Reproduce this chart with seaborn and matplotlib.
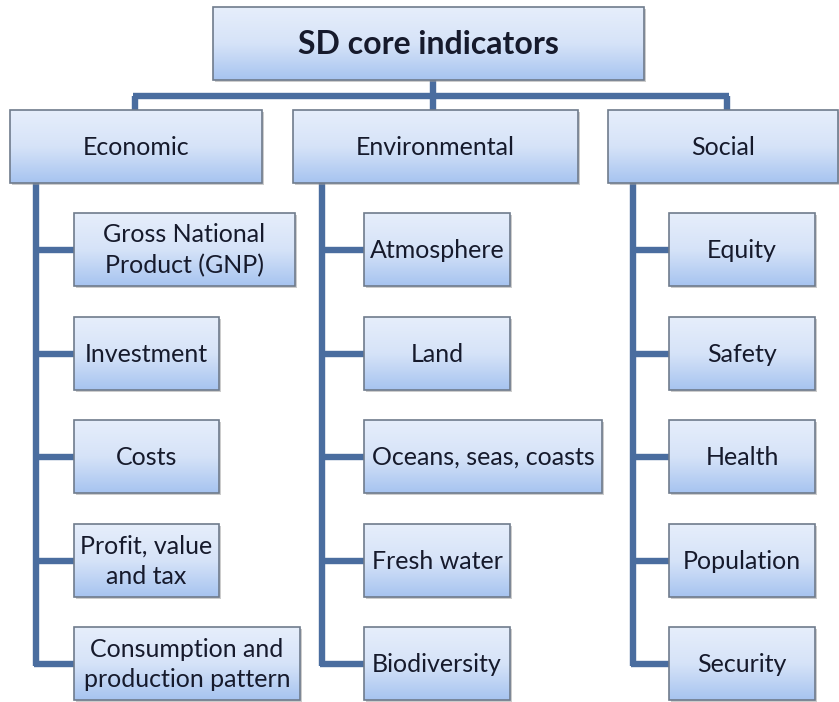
import numpy as np
import seaborn as sns
import matplotlib.pyplot as plt
from matplotlib.patches import Rectangle

# --- content ---
root_label = "SD core indicators"
categories = ["Economic", "Environmental", "Social"]
economic = ["Gross National\nProduct (GNP)", "Investment", "Costs",
            "Profit, value\nand tax", "Consumption and\nproduction pattern"]
environmental = ["Atmosphere", "Land", "Oceans, seas, coasts",
                 "Fresh water", "Biodiversity"]
social = ["Equity", "Safety", "Health", "Population", "Security"]
leaves = [economic, environmental, social]

# --- layout (pixel coords, y down) ---
root_box = (213, 7, 644, 80)
cat_boxes = [(10, 110, 262, 183), (293, 110, 578, 183), (608, 110, 838, 183)]
cat_drop_x = [135, 433, 727]
bus_y = 96
spine_x = [36, 322, 633]
leaf_x0 = [74, 364, 669]
leaf_x1 = [[295, 219, 219, 219, 300],
           [510, 510, 602, 510, 510],
           [815, 815, 815, 815, 815]]
row_top = [213, 317, 420, 524, 627]
row_h = 73

line_col = "#4a6d9f"
lw = 4.6
text_col = "#161a2c"

sns.set_theme(style="white")
plt.rcParams['font.family'] = ['Lato', 'DejaVu Sans']

fig = plt.figure(figsize=(8.39, 7.02), dpi=100)
ax = fig.add_axes([0, 0, 1, 1])
ax.set_xlim(0, 839)
ax.set_ylim(702, 0)
ax.axis("off")

grad = np.linspace(0, 1, 64).reshape(-1, 1)
cmap = sns.blend_palette(["#e6eefb", "#d6e3f8", "#a7c4f0"], as_cmap=True)


def box(b, label, size=18, weight="normal"):
    x0, y0, x1, y1 = b
    # shadow
    ax.add_patch(Rectangle((x0 + 2, y0 + 2), x1 - x0, y1 - y0,
                           facecolor="#9a9a9a", edgecolor="none", alpha=0.5, zorder=3))
    rect = Rectangle((x0, y0), x1 - x0, y1 - y0, facecolor="none",
                     edgecolor="#6f7b8c", linewidth=1.2, zorder=5)
    ax.add_patch(rect)
    im = ax.imshow(grad, extent=[x0, x1, y1, y0], cmap=cmap, aspect="auto",
                   interpolation="bilinear", zorder=4)
    im.set_clip_path(rect)
    ax.text((x0 + x1) / 2, (y0 + y1) / 2 + 1, label, ha="center", va="center",
            fontsize=size, fontweight=weight, color=text_col,
            linespacing=1.4, zorder=6)


def seg(xs, ys):
    ax.plot(xs, ys, color=line_col, lw=lw, solid_capstyle="butt", zorder=2)


# connectors
seg([433, 433], [root_box[3], bus_y])
seg([cat_drop_x[0] - 2, cat_drop_x[-1] + 2], [bus_y, bus_y])
for x in cat_drop_x:
    seg([x, x], [bus_y, 110])

for c in range(3):
    last_mid = row_top[-1] + row_h / 2
    seg([spine_x[c], spine_x[c]], [183, last_mid + 2])
    for r in range(5):
        mid = row_top[r] + row_h / 2
        seg([spine_x[c] - 2, leaf_x0[c]], [mid, mid])

# boxes
box(root_box, root_label, size=23, weight="bold")
for b, lab in zip(cat_boxes, categories):
    box(b, lab, size=18)
for c in range(3):
    for r, lab in enumerate(leaves[c]):
        box((leaf_x0[c], row_top[r], leaf_x1[c][r], row_top[r] + row_h), lab, size=18)

fig.savefig("out.png", dpi=100, facecolor="white")
